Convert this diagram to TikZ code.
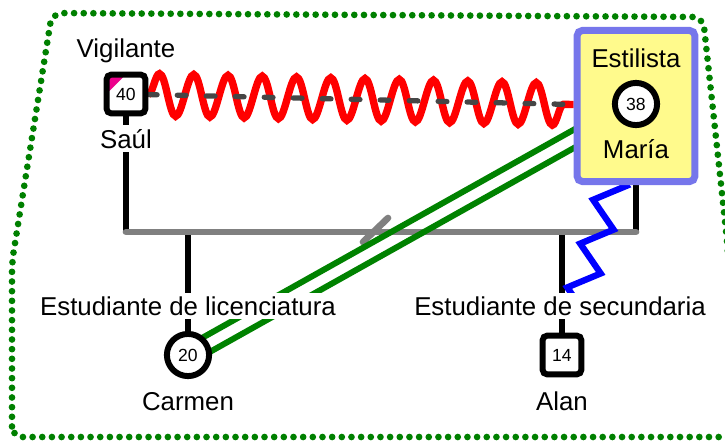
\documentclass[tikz,border=0pt]{standalone}
\usepackage{fontspec}
\setmainfont{Liberation Sans}
\usetikzlibrary{decorations.pathmorphing,backgrounds}

\definecolor{lineGray}{RGB}{128,128,128}
\definecolor{dashGray}{RGB}{70,70,70}
\definecolor{frameGreen}{RGB}{0,128,0}
\definecolor{bondGreen}{RGB}{0,130,0}
\definecolor{boxBlue}{RGB}{118,118,235}
\definecolor{boxYellow}{RGB}{255,250,140}

\begin{document}
\begin{tikzpicture}[x=0.02cm,y=-0.02cm,
  every node/.style={font=\fontsize{14.7}{17}\selectfont},
  male/.style={draw,line width=3.4pt,rounded corners=2.5pt,fill=white,
    minimum size=22pt,inner sep=0pt,font=\fontsize{10}{12}\selectfont},
  female/.style={draw,circle,line width=3.4pt,fill=white,
    minimum size=24pt,inner sep=0pt,font=\fontsize{10}{12}\selectfont},
  caption/.style={anchor=base,fill=white,inner sep=2pt},
  famline/.style={line width=3.6pt},
  unionline/.style={lineGray,line width=3.8pt,line cap=round},
  bond/.style={bondGreen,line width=3.4pt},
  hostile/.style={red,line width=4.2pt,decorate,
    decoration={snake,segment length=19.5pt,amplitude=12pt}},
  distant/.style={dashGray,line width=3pt,line cap=round,
    dash pattern=on 5pt off 11.5pt},
  abuse/.style={blue,line width=3.6pt,decorate,
    decoration={zigzag,segment length=26pt,amplitude=8pt,
      post=moveto,post length=18pt}}]
  \useasboundingbox (0,0) rectangle (725,441);
  \draw[frameGreen,line width=3.8pt,line cap=round,dash pattern=on 0pt off 5.5pt,
    rounded corners=6pt]
    (12,437) -- (12,262) -- (52,13) -- (703,17) -- (727,240) -- (740,437) -- cycle;

  \node[male,path picture={\fill[magenta] (path picture bounding box.north west)
    -- ++(19,0) -- ++(-19,19) -- cycle;}] (saul) at (126,94) {40};
  \node[caption] (saulJob) at (126,57) {Vigilante};
  \node[caption] (saulName) at (126,148) {Saúl};

  \node[draw=boxBlue,fill=boxYellow,line width=4pt,rounded corners=3pt,
    minimum width=67pt,minimum height=86pt] (mariaBox) at (636,106) {};
  \node[female] (maria) at (636,104) {38};
  \node[anchor=base] (mariaJob) at (636,67) {Estilista};
  \node[anchor=base] (mariaName) at (636,158) {María};

  \node[female] (carmen) at (188,355) {20};
  \node[caption] (carmenJob) at (188,315) {Estudiante de licenciatura};
  \node[caption] (carmenName) at (188,410) {Carmen};

  \node[male] (alan) at (562,355) {14};
  \node[caption] (alanJob) at (560,315) {Estudiante de secundaria};
  \node[caption] (alanName) at (562,410) {Alan};

  \coordinate (uL) at (126,232);
  \coordinate (uR) at (636,232);
  \coordinate (cC) at (carmen |- uL);
  \coordinate (cA) at (alan |- uL);
  \coordinate (sepA) at (363,242);
  \coordinate (sepB) at (388,218);

  \begin{scope}[on background layer]
    \draw[famline] (saul) -- (uL);
    \draw[famline] (maria) -- (uR);
    \draw[famline] (cC) -- (carmen);
    \draw[famline] (cA) -- (alan);
    \draw[unionline] (uL) -- (uR);
    \draw[unionline] (sepA) -- (sepB);
    \draw[bond] ([shift={(3.9,7)}]carmen.center) -- ([shift={(3.9,7)}]maria.center);
    \draw[bond] ([shift={(-3.9,-7)}]carmen.center) -- ([shift={(-3.9,-7)}]maria.center);
    \draw[abuse] (maria) -- (alan);
    \draw[hostile] (saul) -- (mariaBox);
    \draw[distant] (saul) -- (mariaBox);
  \end{scope}
\end{tikzpicture}
\end{document}
